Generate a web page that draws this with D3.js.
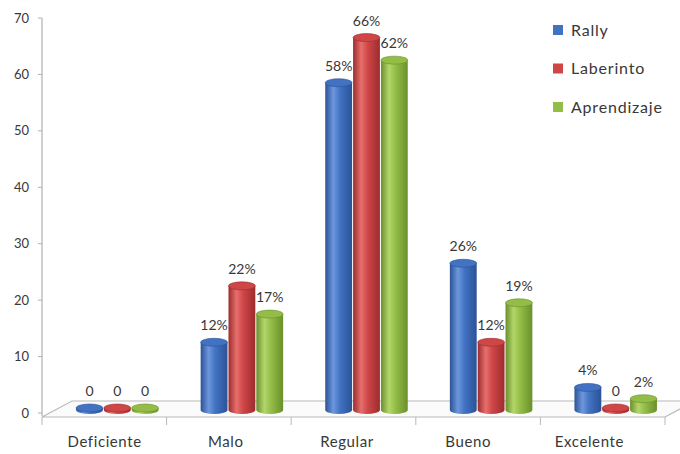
<!DOCTYPE html>
<html>
<head>
<meta charset="utf-8">
<script src="https://cdn.jsdelivr.net/npm/d3@7"></script>
<style>
  html, body { margin: 0; padding: 0; background: #fff; }
  svg { display: block; font-family: Lato, "Open Sans", sans-serif; }
</style>
</head>
<body>
<svg id="chart" width="680" height="454"></svg>
<script>
// ─── Data ─────────────────────────────────────────────────────────────────────

const categories = ["Deficiente", "Malo", "Regular", "Bueno", "Excelente"];
const seriesNames = ["Rally", "Laberinto", "Aprendizaje"];
const rally       = [0, 12, 58, 26, 4];
const laberinto   = [0, 22, 66, 12, 0];
const aprendizaje = [0, 17, 62, 19, 2];
const yTicks = [0, 10, 20, 30, 40, 50, 60, 70];

const seriesValues = [rally, laberinto, aprendizaje];
const colors = [
  { base: "#4272c2", light: "#6d97dc", dark: "#2b5296" },
  { base: "#cf4647", light: "#e66f6c", dark: "#9c2c2e" },
  { base: "#93bd46", light: "#b3d66b", dark: "#6a8f2c" },
];

// ─── Setup ────────────────────────────────────────────────────────────────────

const svg = d3.select("#chart");

const y = d3.scaleLinear().domain([0, 70]).range([413, 18]);
const xTicks = d3.scaleBand().domain(categories).range([42, 665]);
const xBars  = d3.scaleBand().domain(categories).range([55, 678]).paddingInner(0.33).paddingOuter(0.165);
const xLabel = d3.scaleBand().domain(categories).range([44, 650]);
const xSeries = d3.scaleBand().domain(seriesNames).range([0, xBars.bandwidth()]);

const BASE = 410;   // where cylinders stand on the floor
const RY = 4;       // ellipse radius of cylinder caps
const ink = "#383838";

// gradients for the cylinder shading
const defs = svg.append("defs");
colors.forEach((c, i) => {
  const g = defs.append("linearGradient").attr("id", "cyl" + i)
    .attr("x1", "0%").attr("x2", "100%").attr("y1", "0%").attr("y2", "0%");
  g.append("stop").attr("offset", "0%").attr("stop-color", c.dark);
  g.append("stop").attr("offset", "30%").attr("stop-color", c.light);
  g.append("stop").attr("offset", "55%").attr("stop-color", c.base);
  g.append("stop").attr("offset", "100%").attr("stop-color", c.dark);
});

// ─── Floor ────────────────────────────────────────────────────────────────────

const floorFront = 417, floorBack = 401, depth = 30;
const x0 = xTicks.range()[0], x1 = xTicks.range()[1];
svg.append("path")
  .attr("d", `M${x0},${floorFront} L${x0 + depth},${floorBack} L${x1 + depth},${floorBack} L${x1},${floorFront} Z`)
  .attr("fill", "#fbfbfb")
  .attr("stroke", "#b9b9b9")
  .attr("stroke-width", 1.2);

// category tick marks under the floor
svg.append("g").selectAll("line")
  .data(categories.concat(["end"]))
  .join("line")
  .attr("x1", (d, i) => x0 + i * xTicks.step())
  .attr("x2", (d, i) => x0 + i * xTicks.step())
  .attr("y1", floorFront).attr("y2", floorFront + 8)
  .attr("stroke", "#b9b9b9");

// ─── Y axis ───────────────────────────────────────────────────────────────────

svg.append("line")
  .attr("x1", 42).attr("x2", 42)
  .attr("y1", y(70)).attr("y2", y(0) + 3)
  .attr("stroke", "#b0b0b0").attr("stroke-width", 1.2);

const yAxis = svg.append("g");
yAxis.selectAll("line").data(yTicks).join("line")
  .attr("x1", 38).attr("x2", 42)
  .attr("y1", d => y(d)).attr("y2", d => y(d))
  .attr("stroke", "#b0b0b0");
yAxis.selectAll("text").data(yTicks).join("text")
  .attr("x", 29).attr("y", d => y(d) + 4.5)
  .attr("text-anchor", "end")
  .attr("font-size", 13)
  .attr("fill", ink)
  .text(d => d);

// ─── Cylinders ────────────────────────────────────────────────────────────────

const bars = [];
categories.forEach((cat, ci) => {
  seriesNames.forEach((s, si) => {
    bars.push({ cat, s, si, v: seriesValues[si][ci] });
  });
});

const bw = xSeries.bandwidth();
const gBars = svg.append("g");
bars.forEach(b => {
  const left = xBars(b.cat) + xSeries(b.s) + 0.5;
  const w = bw - 1;
  const rx = w / 2;
  const top = Math.min(y(b.v) - 3, BASE - 2);
  const g = gBars.append("g");
  g.append("path")
    .attr("d", `M${left},${top} L${left},${BASE} A${rx},${RY} 0 0 0 ${left + w},${BASE} L${left + w},${top} Z`)
    .attr("fill", `url(#cyl${b.si})`);
  g.append("ellipse")
    .attr("cx", left + rx).attr("cy", top)
    .attr("rx", rx).attr("ry", RY)
    .attr("fill", colors[b.si].base)
    .attr("stroke", colors[b.si].dark)
    .attr("stroke-width", 0.6);
});

// data labels
svg.append("g").selectAll("text")
  .data(bars)
  .join("text")
  .attr("x", d => xBars(d.cat) + xSeries(d.s) + bw / 2)
  .attr("y", d => Math.min(y(d.v) - 3, BASE - 2) - 12)
  .attr("text-anchor", "middle")
  .attr("font-size", 14)
  .attr("fill", ink)
  .text(d => d.v === 0 ? "0" : d.v + "%");

// ─── Category labels ──────────────────────────────────────────────────────────

svg.append("g").selectAll("text")
  .data(categories)
  .join("text")
  .attr("x", d => xLabel(d) + xLabel.bandwidth() / 2)
  .attr("y", 447)
  .attr("text-anchor", "middle")
  .attr("font-size", 15)
  .attr("letter-spacing", 0.6)
  .attr("fill", ink)
  .text(d => d);

// ─── Legend ───────────────────────────────────────────────────────────────────

const legend = svg.append("g").attr("transform", "translate(553,30)");
seriesNames.forEach((s, i) => {
  const row = legend.append("g").attr("transform", `translate(0,${i * 38.5})`);
  row.append("rect")
    .attr("x", 0).attr("y", -5).attr("width", 10).attr("height", 10)
    .attr("fill", colors[i].base);
  row.append("text")
    .attr("x", 18).attr("y", 5.5)
    .attr("font-size", 16)
    .attr("letter-spacing", 0.8)
    .attr("fill", ink)
    .text(s);
});
</script>
</body>
</html>
